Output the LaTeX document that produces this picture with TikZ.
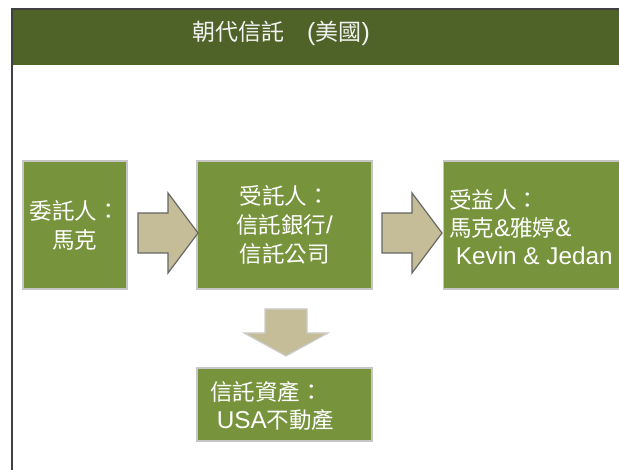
\documentclass[tikz,border=0pt]{standalone}
\usepackage{fontspec}
\setmainfont{Liberation Sans}[Scale=1.08]
\newfontfamily\cjk{Noto Sans CJK TC}
\usetikzlibrary{positioning}
\definecolor{headgreen}{HTML}{4F6228}
\definecolor{boxgreen}{HTML}{77933C}
\definecolor{arrowtan}{HTML}{C4BD97}
\tikzset{
  box/.style={draw=gray!45, line width=1.2pt, fill=boxgreen, text=white, inner sep=0pt, font=\fontsize{22.5}{29}\selectfont},
  boxtext/.style={align=left, anchor=west, text=white, font=\fontsize{22.5}{28}\selectfont, inner sep=0pt},
  blockarrow/.style={draw=gray!80!black, line width=1.2pt, fill=arrowtan, line join=miter},
}
\begin{document}
\begin{tikzpicture}[x=1pt, y=-1pt]
  \useasboundingbox (0,0) rectangle (619,470);
  % frame and title bar
  \fill[headgreen] (11,9) rectangle (625,65);
  \draw[black!75, line width=1.6pt] (12,470) -- (12,9) -- (625,9);
  \node[text=white!95!black, font=\fontsize{23}{26}\selectfont] (title) at (281,33) {\cjk 朝代信託　\rm (\cjk 美國\rm)};
  % boxes
  \node[box, minimum width=104pt, minimum height=128pt, align=center] (settlor) at (75,225)
    {\cjk 委託人：\\\cjk 馬克};
  \node[box, minimum width=175pt, minimum height=128pt, align=center] (trustee) at (284.5,225)
    {\cjk 受託人：\\\cjk 信託銀行\rm/\\\cjk 信託公司};
  \node[box, minimum width=190pt, minimum height=128pt, anchor=west] (benef) at (443,225) {};
  \node[boxtext] (benefx) at (449,227)
    {\cjk 受益人：\\\cjk 馬克\rm\&\cjk 雅婷\rm\&\\\ Kevin \& Jedan};
  \node[box, minimum width=175pt, minimum height=73pt] (asset) at (284.5,404.5) {};
  \node[boxtext] (assetx) at (210,406)
    {\cjk 信託資產：\\\ \rm USA\cjk 不動產};
  % block arrows
  \draw[blockarrow] (138,213) -- (168,213) -- (168,193) -- (198,233) -- (168,273) -- (168,253) -- (138,253) -- cycle;
  \draw[blockarrow] (382,213) -- (412,213) -- (412,193) -- (442,233) -- (412,273) -- (412,253) -- (382,253) -- cycle;
  \draw[blockarrow, draw=gray!40] (265,309) -- (307,309) -- (307,333) -- (328,333) -- (286,356) -- (244,333) -- (265,333) -- cycle;
\end{tikzpicture}
\end{document}
